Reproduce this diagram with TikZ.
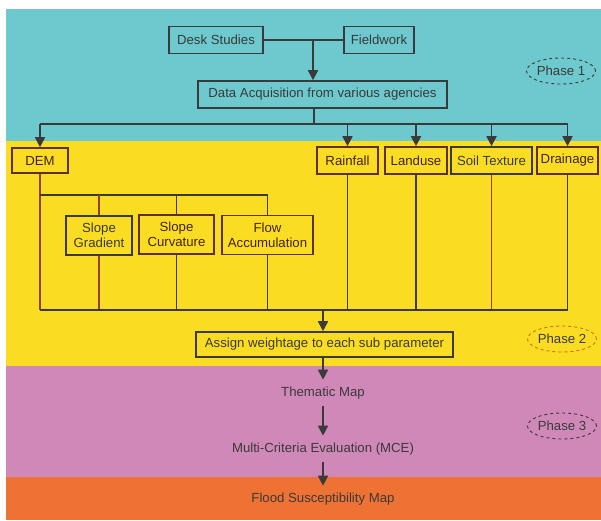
\documentclass[tikz,border=0pt]{standalone}
\usepackage{fontspec}
\setmainfont{Liberation Sans}
\usetikzlibrary{shapes.geometric}
\usetikzlibrary{arrows.meta}

\definecolor{bandcyan}{RGB}{109,201,205}
\definecolor{bandyellow}{RGB}{250,221,34}
\definecolor{bandpink}{RGB}{208,136,184}
\definecolor{bandorange}{RGB}{238,114,52}
\definecolor{inkgray}{RGB}{58,58,58}
\definecolor{edgebrown}{RGB}{95,48,36}
\definecolor{linered}{RGB}{150,62,42}

\tikzset{
  box/.style={draw=inkgray, line width=1.6pt, inner sep=0pt, text=inkgray},
  ybox/.style={box, draw=edgebrown, text=edgebrown!70!black},
  twoline/.style={align=center, minimum height=39},
  plain/.style={inner sep=7pt, text=inkgray},
  phase/.style={ellipse, draw=inkgray, dashed, line width=0.9pt, minimum width=69, minimum height=26, inner sep=0pt, text=inkgray},
  wire/.style={draw=inkgray, line width=1.7pt},
  flow/.style={wire, -{Triangle[length=10pt,width=10pt]}}
}

\begin{document}
\begin{tikzpicture}[x=1pt, y=-1pt, font=\fontsize{13.2}{15}\selectfont]
            \useasboundingbox (0,0) rectangle (601,520);

            %%%%%%%%
            % colour bands
            %%%%%%%%
            \fill[bandcyan] (6,9) rectangle (601,141);
            \fill[bandyellow] (6,141) rectangle (601,366);
            \fill[bandpink] (6,366) rectangle (601,477);
            \fill[bandorange] (6,477) rectangle (601,520);

            %%%%%%%%
            % phase 1
            %%%%%%%%

            % draw boxes
            \node[box, minimum width=94, minimum height=27] (desk) at (216,40) {Desk Studies};
            \node[box, minimum width=70, minimum height=27] (field) at (379,40) {Fieldwork};
            \node[box, minimum width=249, minimum height=27] (data) at (322.5,94.5) {Data Acquisition from various agencies};
            \node[phase] (ph1) at (561,71) {Phase 1};

            % draw links
            \coordinate (join) at (313,40);
            \coordinate (split) at (314,124);
            \draw[wire, line width=2.6pt] (desk.east) -- (field.west);
            \draw[flow] (join) -- (join |- data.north);
            \draw[wire] (data.south -| split) -- (split);

            %%%%%%%%
            % phase 2
            %%%%%%%%

            % draw parameter boxes
            \node[ybox, minimum width=56, minimum height=25] (dem) at (40,160.5) {DEM};
            \node[ybox, minimum width=61, minimum height=27] (rain) at (347.5,160.5) {Rainfall};
            \node[ybox, minimum width=62, minimum height=27] (land) at (416,160.5) {Landuse};
            \node[box, minimum width=81, minimum height=27] (soil) at (491.5,160.5) {Soil Texture};
            \node[ybox, minimum width=61, minimum height=27] (drain) at (567.5,160.5) {Drainage};

            % draw sub parameter boxes
            \node[box, twoline, minimum width=66] (sg) at (99,235.5) {Slope\\Gradient};
            \node[ybox, twoline, minimum width=75] (sc) at (176.5,234.5) {Slope\\Curvature};
            \node[ybox, twoline, minimum width=91] (fa) at (267.5,235) {Flow\\Accumulation};

            \node[box, minimum width=257, minimum height=25] (assign) at (324.5,344.5) {Assign weightage to each sub parameter};
            \node[phase, draw=orange!85!black] (ph2) at (562,339) {Phase 2};

            % draw arrows into parameters
            \draw[wire] (dem.north |- split) -- (drain.north |- split);
            \foreach \p in {dem,rain,land,soil,drain}
                \draw[flow] (\p.north |- split) -- (\p.north);

            % draw DEM branches
            \coordinate (branch) at (40,195);
            \coordinate (base) at (40,310);
            \coordinate (merge) at (323,310);
            \draw[wire, draw=linered] (dem.south) -- (dem.south |- base);
            \draw[wire] (branch) -- (fa.north |- branch);
            \draw[wire, draw=linered] (sg.north |- branch) -- (sg.north);
            \draw[wire] (sc.north |- branch) -- (sc.north);
            \draw[wire] (fa.north |- branch) -- (fa.north);

            % draw lines down to the base
            \draw[wire, draw=linered] (sg.south) -- (sg.south |- base);
            \draw[wire, draw=linered] (soil.south) -- (soil.south |- base);
            \foreach \p in {sc,fa,rain,land,drain}
                \draw[wire] (\p.south) -- (\p.south |- base);
            \draw[wire] (base) -- (drain.south |- base);
            \draw[flow] (merge) -- (merge |- assign.north);

            %%%%%%%%
            % phase 3
            %%%%%%%%
            \node[plain] (thematic) at (323,393) {Thematic Map};
            \node[plain] (mce) at (323,449) {Multi-Criteria Evaluation (MCE)};
            \node[plain] (flood) at (323,499) {Flood Susceptibility Map};
            \node[phase] (ph3) at (562,426) {Phase 3};

            \draw[flow] (assign.south -| merge) -- (thematic.north);
            \draw[flow] (thematic.south) -- (mce.north);
            \draw[flow] (mce.south) -- (flood.north);
\end{tikzpicture}
\end{document}
